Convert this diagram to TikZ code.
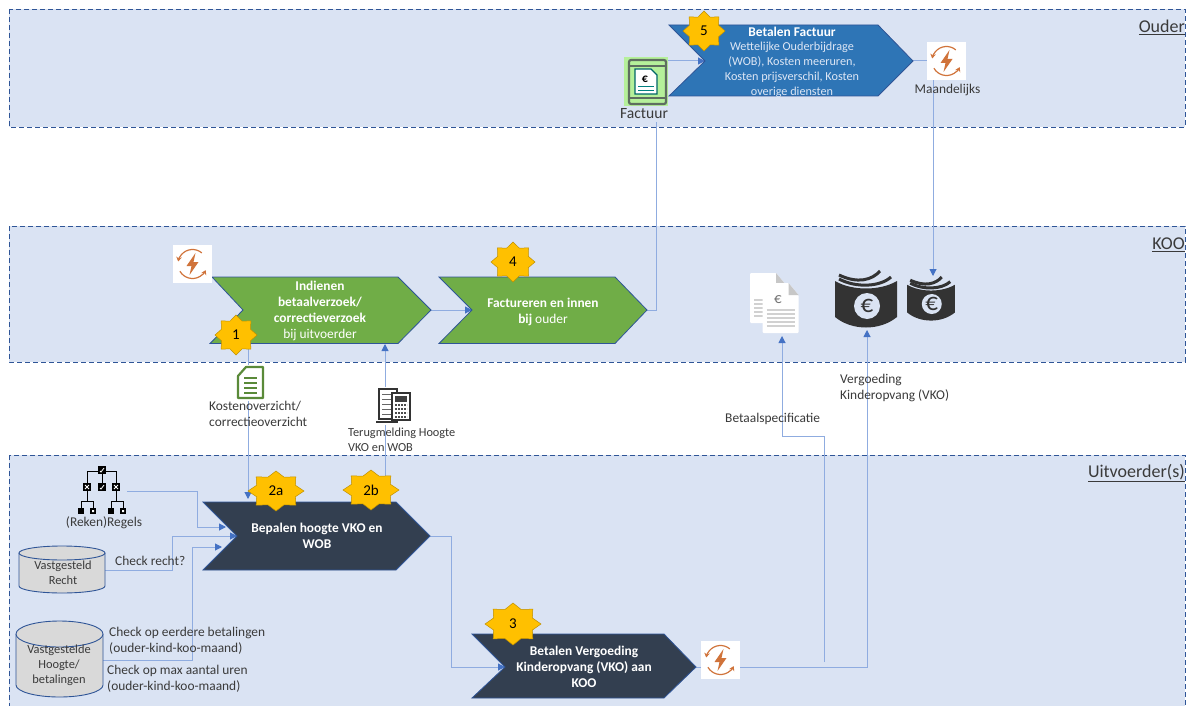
\documentclass[tikz,border=0pt]{standalone}
\usepackage{fontspec}
\setmainfont{Carlito}
\usetikzlibrary{arrows.meta,calc}
\definecolor{regionfill}{HTML}{DAE3F3}
\definecolor{regionline}{HTML}{2F5597}
\definecolor{conn}{HTML}{8FACE0}
\definecolor{connhead}{HTML}{4472C4}
\definecolor{chevblue}{HTML}{2E75B6}
\definecolor{chevgreen}{HTML}{70AD47}
\definecolor{chevdark}{HTML}{333F50}
\definecolor{gold}{HTML}{FFC000}
\definecolor{cycorange}{HTML}{D0733A}
\definecolor{inktxt}{HTML}{3A3A3A}
\definecolor{softwhite}{HTML}{DDE6F5}
\definecolor{moneyink}{HTML}{333333}
\definecolor{tabletgrey}{HTML}{5E6E60}
\definecolor{tabletbg}{HTML}{B5F09A}
\tikzset{
  x=1pt,y=-1pt,
  region/.style={fill=regionfill,draw=regionline,dash pattern=on 5pt off 3pt,line width=.9pt},
  chev/.style={draw=regionline,line width=.8pt,line join=miter},
  link/.style={draw=conn,line width=1pt},
  arrowlink/.style={link,-{Triangle[length=7pt,width=7pt,color=connhead]}},
  lbl/.style={font=\fontsize{13.4}{16}\selectfont,text=inktxt,align=left,inner sep=0pt},
  lblc/.style={lbl,align=center},
  storetxt/.style={lblc,font=\fontsize{12.4}{15}\selectfont},
  head/.style={font=\fontsize{18}{20}\selectfont,text=inktxt,inner sep=0pt},
  chevtxt/.style={font=\fontsize{13.4}{16}\selectfont,text=white,align=center,inner sep=0pt},
  whitebox/.style={fill=white,draw=none,minimum width=39pt,minimum height=38pt,inner sep=0pt},
  badgetxt/.style={font=\fontsize{15}{16}\selectfont,text=black,inner sep=0pt},
  cyl/.style={fill=black!15,draw=regionline,line width=.9pt},
  cyc/.pic={
    \draw[cycorange,line width=1.2pt,-{Stealth[length=4.5pt,width=5.5pt]}] (-50:14.5) arc[start angle=-50,end angle=-170,radius=14.5];
    \draw[cycorange,line width=1.2pt,-{Stealth[length=4.5pt,width=5.5pt]}] (150:14.5) arc[start angle=150,end angle=25,radius=14.5];
    \fill[cycorange] (3,-11) -- (-6,2) -- (-1,2) -- (-3,11) -- (6,-2) -- (1,-2) -- cycle;
  },
  money/.pic={
    \fill[moneyink] (-31,-12) .. controls (-14,-2) and (14,-2) .. (31,-12) -- (31,24) .. controls (14,38) and (-14,38) .. (-31,24) -- cycle;
    \draw[moneyink,line width=3pt] (-27,-14) .. controls (-10,-5) and (14,-6) .. (25,-16);
    \draw[moneyink,line width=3pt] (-27,-18) .. controls (-8,-9) and (6,-13) .. (14,-22);
    \fill[regionfill] (1,13) circle (13);
    \node[font=\fontsize{25}{25}\selectfont,text=moneyink,inner sep=0pt] at (1,13) {€};
  },
  docsheet/.pic={
    \fill[white,rounded corners=1pt] (-18,-25) -- (8,-25) -- (18,-13) -- (18,25) -- (-18,25) -- cycle;
    \fill[black!22] (8,-25) -- (18,-13) -- (8,-13) -- cycle;
    \foreach \yy in {2,6,10,14,18} \draw[black!18,line width=1.6pt] (-14,\yy) -- (14,\yy);
  },
  treebox/.style={fill=black,inner sep=0pt},
  treemark/.style={draw=white,line width=.8pt}
}
\newcommand{\badge}[6]{%
  \filldraw[fill=gold,draw=gold!75!black,line width=.5pt]
    plot[samples at={0,...,15}] ({#2+(1-0.25*mod(\x,2))*#4*cos(\x*22.5)},{#3+(1-0.25*mod(\x,2))*#5*sin(\x*22.5)}) -- cycle;
  \node[badgetxt] (#1) at (#2,#3) {#6};}
\begin{document}
\begin{tikzpicture}
\useasboundingbox (0,0) rectangle (1193,706);
\fill[white] (0,0) rectangle (1193,706);
\begin{scope}
\clip (0,0) rectangle (1193,706);
\draw[region] (9,9) rectangle (1185,127);
\draw[region] (9,226) rectangle (1185,362);
\draw[region] (9,455) rectangle (1185,720);
\end{scope}
\node[head,anchor=east] (hOuder) at (1185,27) {\underline{Ouder}};
\node[head,anchor=east] (hKoo) at (1185,245) {\underline{KOO}};
\node[head,anchor=east] (hUit) at (1185,473) {\underline{Uitvoerder(s)}};

% anchor points on the arrow shapes
\coordinate (blueNotch) at (705,61);
\coordinate (blueTip) at (913,61);
\coordinate (greenANotch) at (243,310);
\coordinate (greenATip) at (431,310);
\coordinate (greenBNotch) at (472,310);
\coordinate (greenBTip) at (647,310);
\coordinate (darkATip) at (430,536);
\coordinate (darkANotch) at (237,536);
\coordinate (darkBNotch) at (505,667);
\coordinate (darkBTip) at (696,667);
\coordinate (rulesIn) at (226,527);
\coordinate (hoogteIn) at (222,547);
\coordinate (greenAIn) at (385,344);
\coordinate (darkATopA) at (248,499);
\coordinate (darkATopB) at (385,502);
\coordinate (greenATop) at (248,343);
\coordinate (moneySmallTop) at (933,276);
\coordinate (moneyBigBottom) at (867,330);
\coordinate (specBottom) at (782,336);
\coordinate (branch) at (824,662);
\coordinate (treeOut) at (127,491);
\coordinate (rechtOut) at (105,570);
\coordinate (hoogteOut) at (103,660);
\coordinate (tabletOut) at (668,61);
\coordinate (tabletDown) at (656,122);

% connectors
\draw[arrowlink] (tabletOut) -- (blueNotch);
\draw[arrowlink] (blueTip) -| (moneySmallTop);
\draw[link] (greenBTip) -| (tabletDown);
\draw[arrowlink] (greenATip) -- (greenBNotch);
\draw[arrowlink] (greenATop) -- (darkATopA);
\draw[arrowlink] (darkATopB) -- (greenAIn);
\draw[arrowlink] (treeOut) -- ++(70,0) |- (rulesIn);
\draw[arrowlink] (rechtOut) -- ++(67,0) |- (darkANotch);
\draw[arrowlink] (hoogteOut) -- ++(89,0) |- (hoogteIn);
\draw[arrowlink] (darkATip) -- ++(21,0) |- (darkBNotch);
\draw[arrowlink] (darkBTip) -| (moneyBigBottom);
\draw[arrowlink] (branch) -- ++(0,-226) -| (specBottom);

% process arrows
\draw[chev,fill=chevblue] (669,25) -- (878,25) -- (blueTip) -- (878,96) -- (669,96) -- (blueNotch) -- cycle;
\draw[chev,fill=chevgreen] (212,277) -- (398,277) -- (greenATip) -- (398,343.5) -- (210,343.5) -- (greenANotch) -- cycle;
\draw[chev,fill=chevgreen] (439,277) -- (615,277) -- (greenBTip) -- (615,343.5) -- (439,343.5) -- (greenBNotch) -- cycle;
\draw[chev,fill=chevdark] (203,502) -- (396,502) -- (darkATip) -- (396,570) -- (203,570) -- (darkANotch) -- cycle;
\draw[chev,fill=chevdark] (472,634) -- (664,634) -- (darkBTip) -- (664,698) -- (472,698) -- (darkBNotch) -- cycle;

\node[chevtxt,font=\fontsize{12.2}{14.7}\selectfont,text=softwhite] (blueTxt) at (792,62) {{\fontsize{13.4}{14.7}\selectfont\textbf{\textcolor{white}{Betalen Factuur}}}\\Wettelijke Ouderbijdrage\\(WOB), Kosten meeruren,\\Kosten prijsverschil, Kosten\\overige diensten};
\node[chevtxt] (greenATxt) at (320,311) {\textbf{Indienen}\\\textbf{betaalverzoek/}\\\textbf{correctieverzoek}\\bij uitvoerder};
\node[chevtxt] (greenBTxt) at (543,312) {\textbf{Factureren en innen}\\\textbf{bij} ouder};
\node[chevtxt] (darkATxt) at (317,536) {\textbf{Bepalen hoogte VKO en}\\\textbf{WOB}};
\node[chevtxt] (darkBTxt) at (584,667) {\textbf{Betalen Vergoeding}\\\textbf{Kinderopvang (VKO) aan}\\\textbf{KOO}};

% badges
\badge{bFive}{704}{31}{21}{20}{5}
\badge{bFour}{513}{262}{22}{20}{4}
\badge{bOne}{236}{335}{21}{20}{1}
\badge{bTwoA}{276}{491}{28}{20}{2a}
\badge{bTwoB}{371}{490}{28}{20}{2b}
\badge{bThree}{513}{624}{28}{21}{3}

% cycle icons
\node[whitebox] (cycMonth) at (946.5,61) {};
\pic at (cycMonth) {cyc};
\node[whitebox] (cycKoo) at (192.5,264) {};
\pic at (cycKoo) {cyc};
\node[whitebox] (cycPay) at (720.5,660) {};
\pic at (cycPay) {cyc};
\node[lblc] (lMonth) at (947.5,90) {Maandelijks};

% tablet
\node[fill=tabletbg,minimum width=44pt,minimum height=49pt,inner sep=0pt] (tablet) at (646,82) {};
\draw[tabletgrey,line width=2.2pt,rounded corners=2pt] (629,60) rectangle (666,104);
\draw[tabletgrey,line width=1.4pt] (629,66) -- (666,66) (629,98) -- (666,98);
\fill[white,draw=teal!80!black,line width=1.2pt] (635,69) -- (651,69) -- (657,75) -- (657,94) -- (635,94) -- cycle;
\node[font=\bfseries\fontsize{12}{12}\selectfont,inner sep=0pt] (tabletEuro) at (645,79) {€};
\draw[teal,line width=1pt] (638,87) -- (654,87) (638,91) -- (654,91);
\node[font=\fontsize{15.6}{16}\selectfont,text=inktxt,inner sep=0pt] (lFactuur) at (644,114) {Factuur};

% document icon
\node[inner sep=0pt,minimum size=1pt] (docIcon) at (250,382) {};
\fill[white] (231,365) rectangle (265,401);
\draw[chevgreen!80!black,line width=2.2pt,line join=round,fill=white] (246,367) -- (263,367) -- (263,398) -- (238,398) -- (238,376) -- cycle;
\foreach \yy in {378,383,388,393} \draw[chevgreen!80!black,line width=1.2pt] (244,\yy) -- (257,\yy);
\node[lbl,anchor=north west] (lKosten) at (209,401) {Kostenoverzicht/\\correctieoverzicht};

% calculator icon
\fill[white] (374,387) rectangle (413,425);
\draw[black!80,line width=1.2pt,fill=white] (379,389) rectangle (397,419);
\foreach \yy in {394,399,404,409,414} \draw[black!60,line width=1pt] (382,\yy) -- (394,\yy);
\draw[black!80,line width=1.2pt,fill=white] (392,393) rectangle (410,420);
\fill[black!75] (395,396) rectangle (407,402);
\foreach \yy in {405,409,413,417} \draw[black!70,line width=2pt,dash pattern=on 2pt off 1pt] (395,\yy) -- (407,\yy);
\draw[black!80,line width=1.5pt] (376,422) -- (398,422);
\node[inner sep=0pt,minimum size=1pt] (calcIcon) at (393,405) {};
\node[lbl,anchor=north west,font=\fontsize{12.3}{15}\selectfont] (lTerug) at (348,428) {Terugmelding Hoogte\\VKO en WOB};

% specification icons
\pic at (768,298) {docsheet};
\pic at (780.5,308) {docsheet};
\node[font=\fontsize{15}{15}\selectfont,text=black!55,inner sep=0pt] (specEuro) at (778,300) {€};
\node[lbl,anchor=west] (lSpec) at (725,419) {Betaalspecificatie};

% money icons
\pic at (866,293) {money};
\pic[scale=.77] at (931,294) {money};
\node[lbl,anchor=north west] (lVko) at (840,374) {Vergoeding\\Kinderopvang (VKO)};

% rule tree
\draw[black,line width=1pt] (87,485) -- (87,471) -- (116,471) -- (116,485) (102,471) -- (102,485);
\draw[black,line width=1pt] (81,510) -- (81,501) -- (93,501) -- (93,510) (87,490) -- (87,501);
\draw[black,line width=1pt] (111,510) -- (111,501) -- (123,501) -- (123,510) (116,490) -- (116,501);
\node[treebox,minimum size=8pt] (treeTop) at (102,470) {};
\node[treebox,minimum size=8pt] (treeA) at (87,487) {};
\node[treebox,minimum size=8pt] (treeB) at (102,487) {};
\node[treebox,minimum size=8pt] (treeC) at (116,487) {};
\node[treebox,minimum size=6pt] (treeD) at (81,511) {};
\node[treebox,minimum size=6pt] (treeE) at (93,511) {};
\node[treebox,minimum size=6pt] (treeF) at (111,511) {};
\node[treebox,minimum size=6pt] (treeG) at (123,511) {};
\draw[treemark] (100,471) -- (101,472) -- (104,468) (100,488) -- (101,489) -- (104,485);
\draw[treemark] (85,485) -- (89,489) (85,489) -- (89,485) (114,485) -- (118,489) (114,489) -- (118,485);
\fill[white] (92,510) rectangle (94,512) (122,510) rectangle (124,512);

\node[lblc] (lRegels) at (104,523) {(Reken)Regels};

% data stores
\draw[cyl] (19,553) -- (19,586) arc[start angle=180,end angle=0,x radius=43,y radius=7] -- (105,553);
\draw[cyl] (62,553) ellipse[x radius=43,y radius=7];
\draw[cyl] (16,634) -- (16,685) arc[start angle=180,end angle=0,x radius=43.5,y radius=12] -- (103,634);
\draw[cyl] (59.5,634) ellipse[x radius=43.5,y radius=13];
\node[storetxt] (lRecht) at (63,573) {Vastgesteld\\Recht};
\node[storetxt] (lHoogte) at (59,665) {Vastgestelde\\Hoogte/\\betalingen};
\node[lbl,anchor=west] (lCheck) at (115,561) {Check recht?};
\node[lbl,anchor=north west] (lEerder) at (109,627) {Check op eerdere betalingen\\(ouder-kind-koo-maand)};
\node[lbl,anchor=north west] (lMax) at (107,665) {Check op max aantal uren\\(ouder-kind-koo-maand)};
\end{tikzpicture}
\end{document}
